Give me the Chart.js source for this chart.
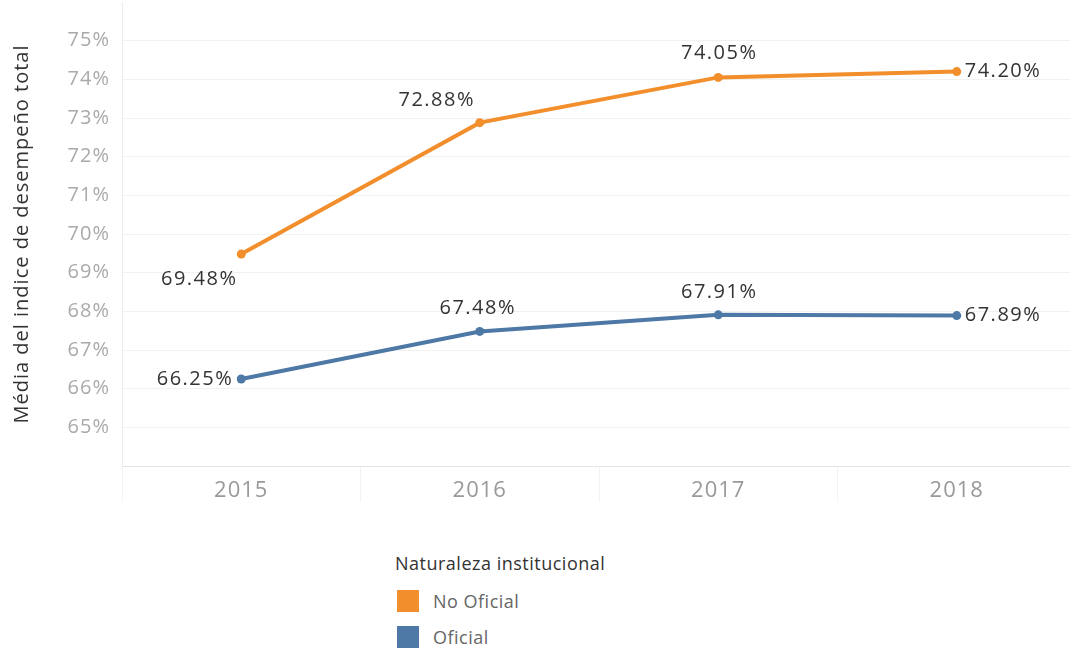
<!DOCTYPE html>
<html>
<head>
<meta charset="utf-8">
<script src="https://cdn.jsdelivr.net/npm/chart.js@4/dist/chart.umd.min.js"></script>
<style>
  html, body { margin: 0; padding: 0; background: #fff; overflow: hidden; }
  #wrap { position: relative; width: 1070px; height: 649px; overflow: hidden; }
  #chart { position: absolute; left: 0; top: 0; }
  .legend { position: absolute; left: 395px; top: 551px; font-family: "Open Sans", sans-serif; letter-spacing: 0.5px; }
  .legend .title { font-size: 18px; color: #333; margin-bottom: 8px; }
  .legend .item { display: flex; align-items: center; height: 36px; font-size: 18px; color: #666; }
  .legend .sw { width: 22px; height: 22px; margin-left: 2px; margin-right: 14px; }
</style>
</head>
<body>
<div id="wrap">
  <canvas id="chart" width="1076" height="520"></canvas>
  <div class="legend" id="legend"></div>
</div>
<script>
// Años evaluados
const years = ['2015', '2016', '2017', '2018'];
// Media del índice de desempeño total (%) por naturaleza institucional
const noOficial = [69.48, 72.88, 74.05, 74.20];
const oficial = [66.25, 67.48, 67.91, 67.89];
const seriesNames = ['No Oficial', 'Oficial'];
const legendTitle = 'Naturaleza institucional';
const yTitle = 'Média del indice de desempeño total';

const ORANGE = '#F28E2B';
const BLUE = '#4E79A7';
const FONT = '"Open Sans", sans-serif';

// where each value label sits relative to its point
const labelPlacement = [
  [{ dx: -42, dy: 25, align: 'center' }, { dx: -43, dy: -22, align: 'center' }, { dx: 1, dy: -24, align: 'center' }, { dx: 8, dy: 0, align: 'left' }],
  [{ dx: -8, dy: 0, align: 'right' }, { dx: -2, dy: -23, align: 'center' }, { dx: 1, dy: -23, align: 'center' }, { dx: 8, dy: 0, align: 'left' }]
];

const spacing = {
  id: 'spacing',
  beforeDraw(chart) { chart.ctx.letterSpacing = '1px'; },
  afterDraw(chart) { chart.ctx.letterSpacing = '0px'; }
};

const valueLabels = {
  id: 'valueLabels',
  afterDatasetsDraw(chart) {
    const ctx = chart.ctx;
    ctx.save();
    ctx.font = '20px ' + FONT;
    ctx.letterSpacing = '1.5px';
    ctx.fillStyle = '#333';
    ctx.textBaseline = 'middle';
    chart.data.datasets.forEach((ds, i) => {
      const meta = chart.getDatasetMeta(i);
      meta.data.forEach((pt, j) => {
        const p = labelPlacement[i][j];
        ctx.textAlign = p.align;
        ctx.fillText(ds.data[j].toFixed(2) + '%', pt.x + p.dx, pt.y + p.dy);
      });
    });
    ctx.restore();
  }
};

new Chart(document.getElementById('chart'), {
  type: 'line',
  data: {
    labels: years,
    datasets: [
      { label: seriesNames[0], data: noOficial, borderColor: ORANGE, backgroundColor: ORANGE },
      { label: seriesNames[1], data: oficial, borderColor: BLUE, backgroundColor: BLUE }
    ]
  },
  options: {
    responsive: false,
    animation: false,
    layout: { autoPadding: false, padding: { top: 2, right: 0, left: 0, bottom: 0 } },
    elements: {
      line: { borderWidth: 4, tension: 0 },
      point: { radius: 4.5, borderWidth: 0, hoverRadius: 4.5 }
    },
    plugins: { legend: { display: false }, tooltip: { enabled: false } },
    scales: {
      x: {
        offset: true,
        afterFit(scale) {
          scale.height = 54;
          scale.paddingLeft = 0; scale.paddingRight = 0;
        },
        grid: { offset: true, drawOnChartArea: false, color: '#f3f3f3', tickLength: 36 },
        border: { color: '#e4e4e4' },
        ticks: { color: '#999', font: { family: FONT, size: 22 }, padding: -24 }
      },
      y: {
        min: 64, max: 76,
        afterFit(scale) {
          scale.width = 122;
          scale.paddingTop = 0; scale.paddingBottom = 0;
        },
        grid: {
          drawTicks: false,
          color: (c) => (c.tick && (c.tick.value === 76 || c.tick.value === 64)) ? 'rgba(0,0,0,0)' : '#f1f1f1'
        },
        border: { color: '#ececec' },
        ticks: {
          stepSize: 1,
          padding: 12,
          color: '#aaa',
          font: { family: FONT, size: 20 },
          callback: (v) => (v === 64 || v === 76) ? '' : v + '%'
        },
        title: {
          display: true,
          text: yTitle,
          color: '#333',
          font: { family: FONT, size: 20 },
          padding: { top: 10, bottom: 0 }
        }
      }
    }
  },
  plugins: [spacing, valueLabels]
});

// legend
const legend = document.getElementById('legend');
const t = document.createElement('div');
t.className = 'title';
t.textContent = legendTitle;
legend.appendChild(t);
[ORANGE, BLUE].forEach((c, i) => {
  const row = document.createElement('div');
  row.className = 'item';
  const sw = document.createElement('span');
  sw.className = 'sw';
  sw.style.background = c;
  const lab = document.createElement('span');
  lab.textContent = seriesNames[i];
  row.appendChild(sw);
  row.appendChild(lab);
  legend.appendChild(row);
});
</script>
</body>
</html>
